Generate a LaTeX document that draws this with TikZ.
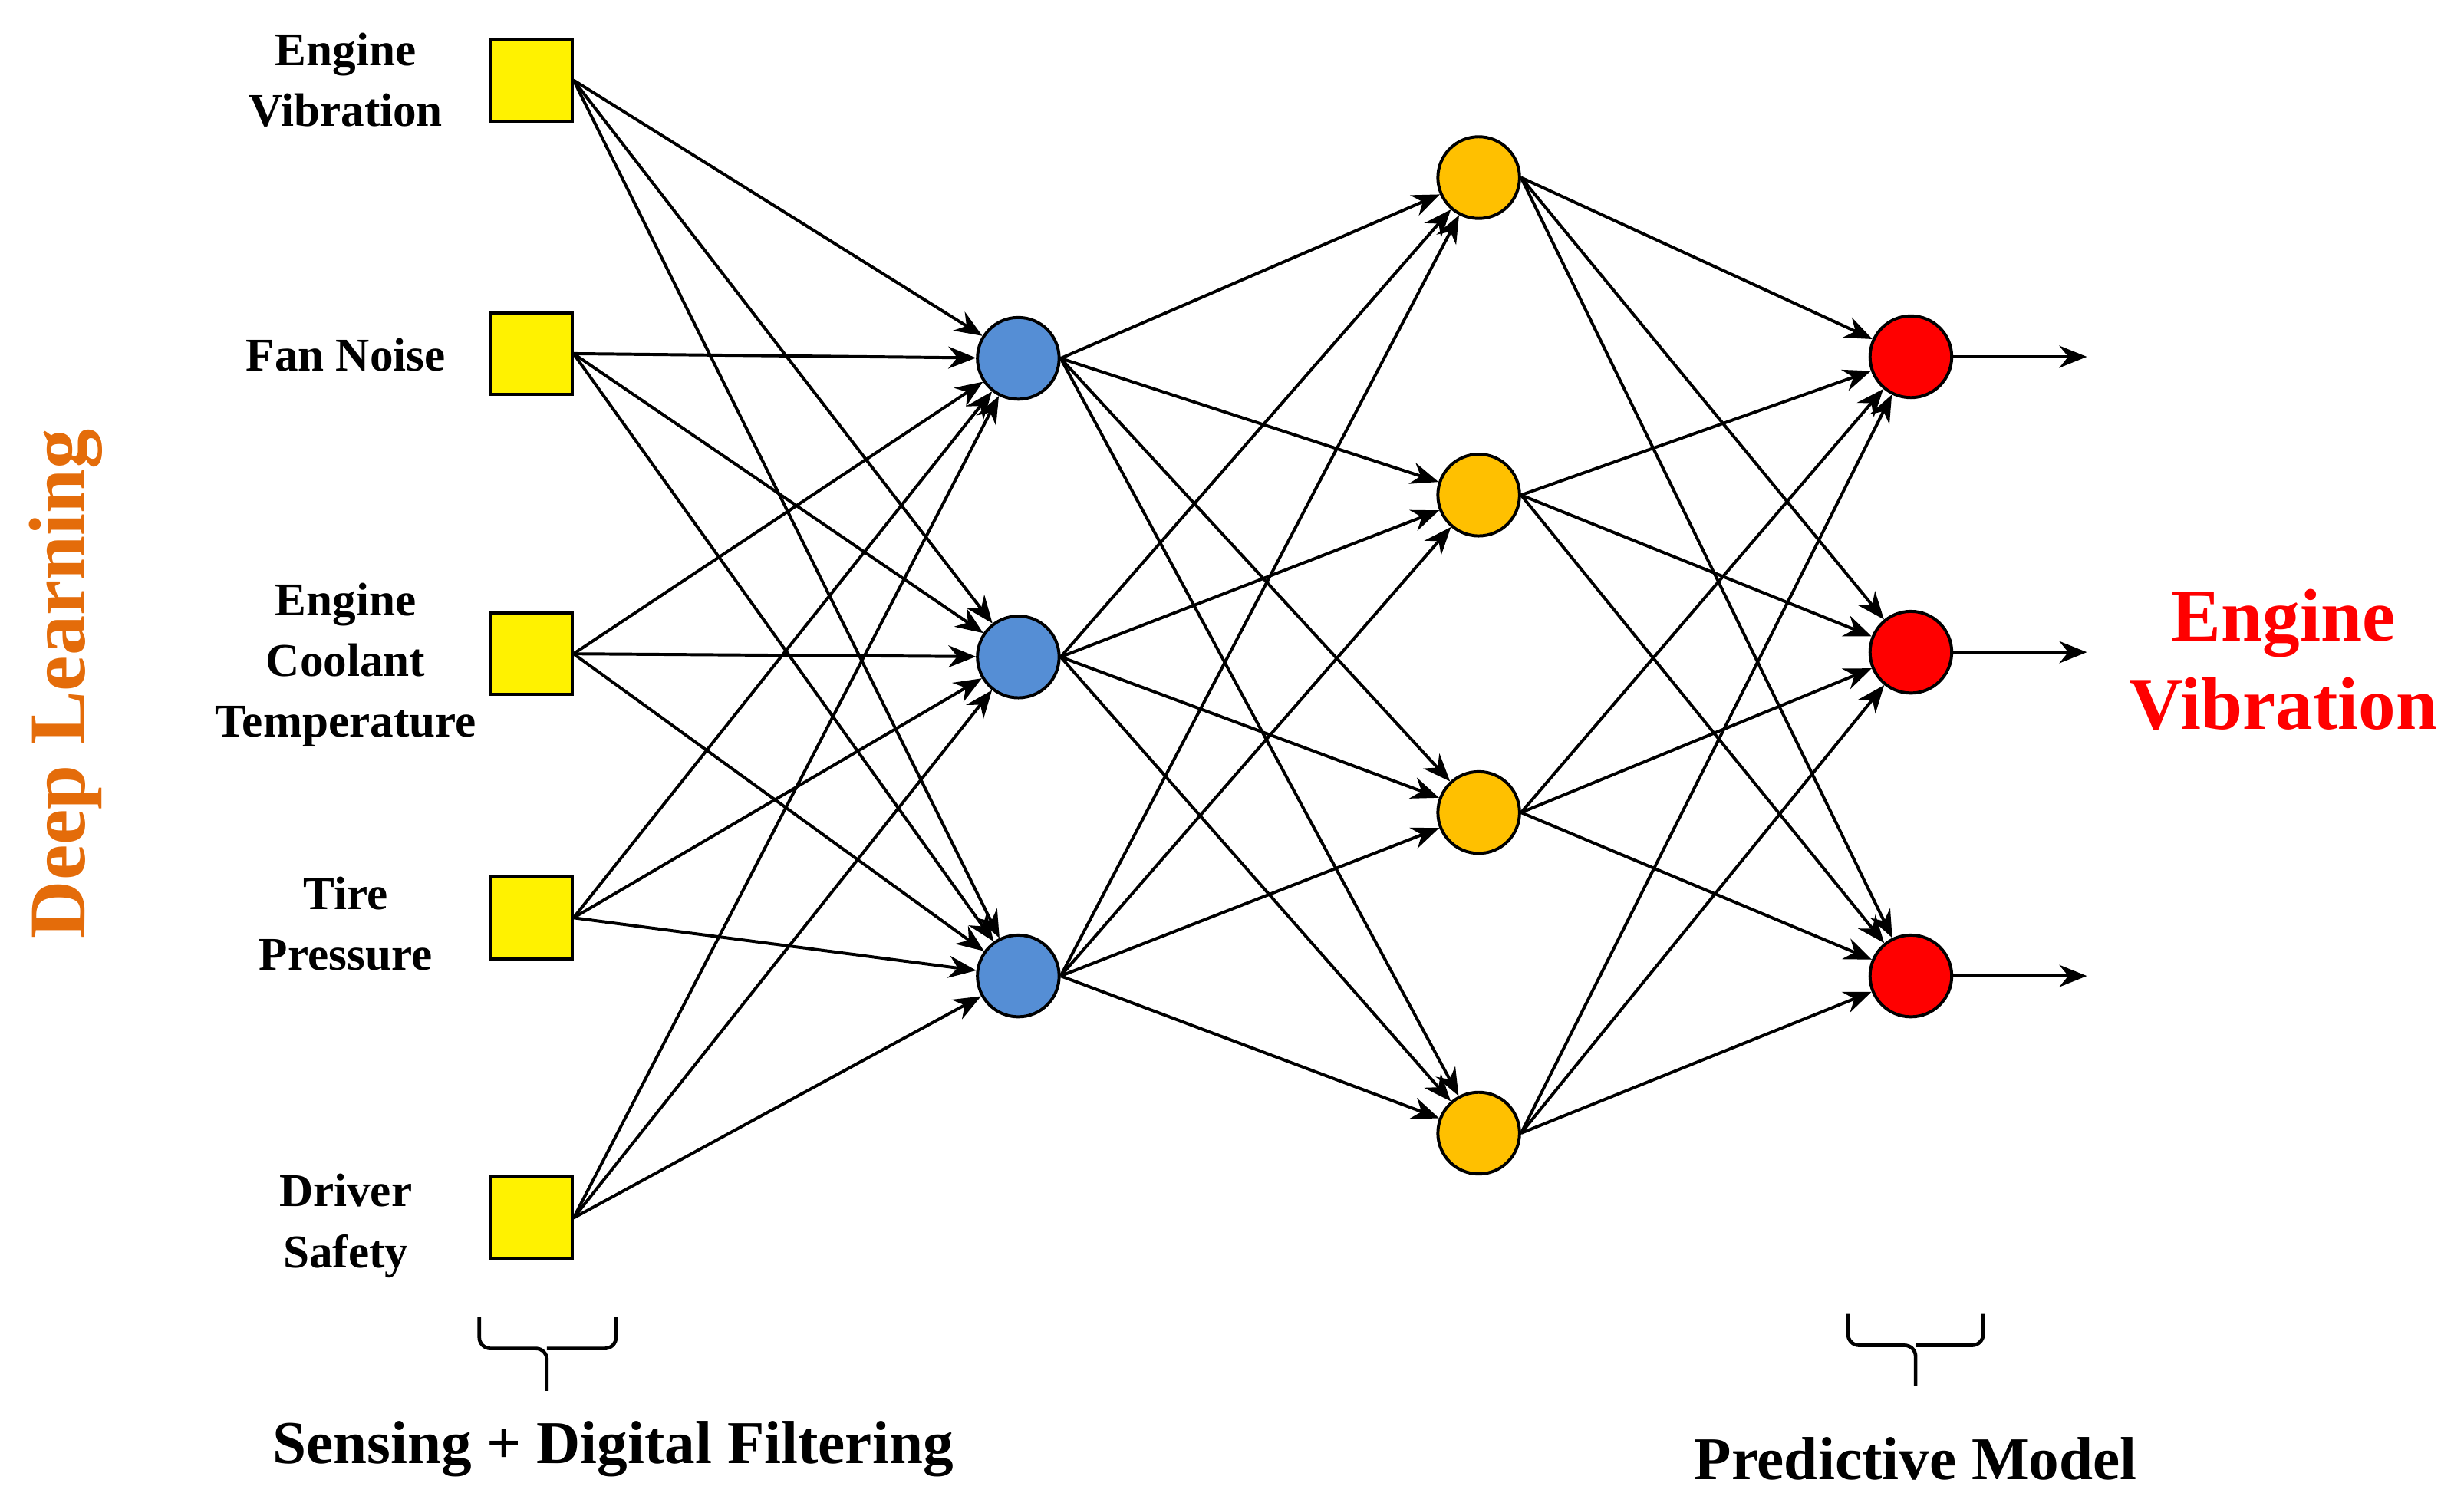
\documentclass[tikz,border=0pt]{standalone}
\usepackage{fontspec}
\setmainfont{Liberation Serif}
\usetikzlibrary{arrows.meta}
\definecolor{nblue}{RGB}{85,142,213}
\definecolor{norange}{RGB}{255,192,0}
\definecolor{dlorange}{RGB}{228,108,10}
\begin{document}
\begin{tikzpicture}[x=0.02cm,y=-0.02cm,
	sq/.style={draw,line width=1.1pt,fill=yellow,minimum size=1.04cm,inner sep=0pt},
	neur/.style={circle,draw,line width=1.1pt,minimum size=1.04cm,inner sep=0pt},
	lab/.style={font=\fontsize{17}{22}\selectfont\bfseries,align=center},
	con/.style={-{Stealth[length=10pt,width=8pt]},line width=1.1pt},
	brc/.style={line width=1.3pt,rounded corners=4pt}]
		\useasboundingbox (0,0) rectangle (1568,958);
		% input layer
		\node[sq] (s1) at (338,51) {};
		\node[sq] (s2) at (338,225) {};
		\node[sq] (s3) at (338,416) {};
		\node[sq] (s4) at (338,584) {};
		\node[sq] (s5) at (338,775) {};
		\node[lab] at (220,51) {Engine\\Vibration};
		\node[lab] at (220,226) {Fan Noise};
		\node[lab] at (220,423) {Engine\\Coolant\\Temperature};
		\node[lab] at (220,588) {Tire\\Pressure};
		\node[lab] at (220,780) {Driver\\Safety};
		% hidden layers
		\node[neur,fill=nblue] (b1) at (648,228) {};
		\node[neur,fill=nblue] (b2) at (648,418) {};
		\node[neur,fill=nblue] (b3) at (648,621) {};
		\node[neur,fill=norange] (o1) at (941,113) {};
		\node[neur,fill=norange] (o2) at (941,315) {};
		\node[neur,fill=norange] (o3) at (941,517) {};
		\node[neur,fill=norange] (o4) at (941,721) {};
		% output layer
		\node[neur,fill=red] (r1) at (1216,227) {};
		\node[neur,fill=red] (r2) at (1216,415) {};
		\node[neur,fill=red] (r3) at (1216,621) {};
		\coordinate (e1) at (1328,227);
		\coordinate (e2) at (1328,415);
		\coordinate (e3) at (1328,621);
		\foreach \i in {1,...,5}
			\foreach \j in {1,2,3}
				\draw[con] (s\i.east) -- (b\j);
		\foreach \i in {1,2,3}
			\foreach \j in {1,...,4}
				\draw[con] (b\i.east) -- (o\j);
		\foreach \i in {1,...,4}
			\foreach \j in {1,2,3}
				\draw[con] (o\i.east) -- (r\j);
		\foreach \j in {1,2,3}
			\draw[con] (r\j.east) -- (e\j);
		% texts
		\node[rotate=90,text=dlorange,font=\fontsize{29}{32}\selectfont\bfseries] (dl) at (42,435) {Deep Learning};
		\node[text=red,align=center,font=\fontsize{27}{32}\selectfont\bfseries] (ev) at (1453,420) {Engine\\Vibration};
		% braces
		\draw[brc] (305,838) -- (305,858) -- (348,858) -- (348,885);
		\draw[brc] (392,838) -- (392,858) -- (348,858);
		\draw[brc] (1176,836) -- (1176,856) -- (1219,856) -- (1219,882);
		\draw[brc] (1262,836) -- (1262,856) -- (1219,856);
		\node[font=\fontsize{22}{26}\selectfont\bfseries] (sdf) at (390,922) {Sensing + Digital Filtering};
		\node[font=\fontsize{22}{26}\selectfont\bfseries] (pm) at (1219,928) {Predictive Model};
	\end{tikzpicture}
\end{document}
